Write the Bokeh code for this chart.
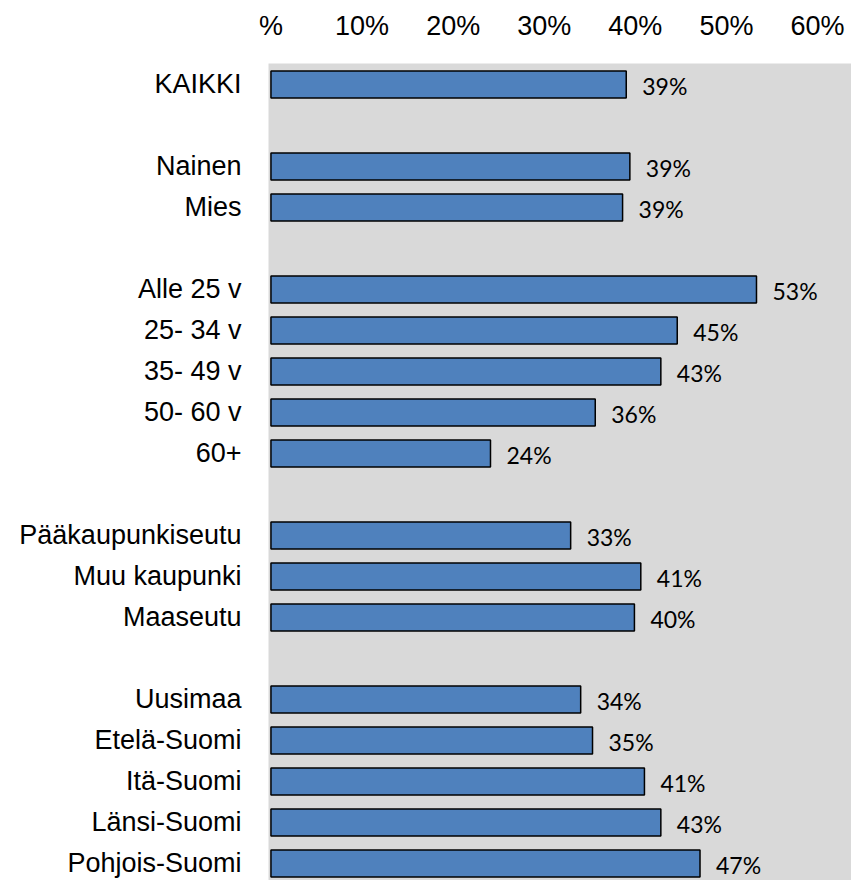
from bokeh.plotting import figure
from bokeh.models import Range1d, FixedTicker, LinearAxis, ColumnDataSource
from bokeh.core.properties import value
from bokeh.embed import file_html
from bokeh.resources import INLINE

# Data (empty string = gap between groups)
categories = ["KAIKKI", "", "Nainen", "Mies", "", "Alle 25 v", "25- 34 v", "35- 49 v",
              "50- 60 v", "60+", "", "Pääkaupunkiseutu", "Muu kaupunki", "Maaseutu", "",
              "Uusimaa", "Etelä-Suomi", "Itä-Suomi", "Länsi-Suomi", "Pohjois-Suomi"]
values = [39.0, None, 39.4, 38.6, None, 53.3, 44.6, 42.8, 35.6, 24.1, None,
          32.9, 40.6, 39.9, None, 34.0, 35.3, 41.0, 42.8, 47.1]
x_ticks = [0, 10, 20, 30, 40, 50, 60]
x_tick_labels = ["%", "10%", "20%", "30%", "40%", "50%", "60%"]

idx = [i for i, c in enumerate(categories) if c]
src = ColumnDataSource(dict(
    y=idx,
    v=[values[i] for i in idx],
    lab=[f"{values[i]:.0f}%" for i in idx],
))

p = figure(width=851, height=880, output_backend="svg", toolbar_location=None,
           x_range=Range1d(-0.27, 63.73), y_range=Range1d(19.415, -0.512),
           x_axis_location=None, y_axis_location=None,
           min_border_left=268, min_border_right=0, min_border_top=63, min_border_bottom=0)
p.background_fill_color = "#d9d9d9"
p.border_fill_color = "white"
p.outline_line_color = None
p.xgrid.visible = False
p.ygrid.visible = False

p.hbar(y="y", right="v", left=0, height=0.66, source=src,
       fill_color="#4f81bd", line_color="black", line_width=1.5)

p.text(x="v", y="y", text="lab", source=src, x_offset=16, y_offset=2,
       text_baseline="middle", text_align="left",
       text_font=value("Lato"), text_font_size="23px", text_color="black")

# Left category axis
yaxis = LinearAxis(ticker=FixedTicker(ticks=idx),
                   major_label_overrides={i: categories[i] for i in idx})
yaxis.axis_line_color = None
yaxis.major_tick_line_color = None
yaxis.minor_tick_line_color = None
yaxis.major_label_text_font = "Liberation Sans"
yaxis.major_label_text_font_size = "27px"
yaxis.major_label_text_color = "black"
yaxis.major_label_standoff = 21
p.add_layout(yaxis, "left")

# Top value axis
xaxis = LinearAxis(ticker=FixedTicker(ticks=x_ticks),
                   major_label_overrides={t: l for t, l in zip(x_ticks, x_tick_labels)})
xaxis.axis_line_color = None
xaxis.major_tick_line_color = None
xaxis.minor_tick_line_color = None
xaxis.major_label_text_font = "Liberation Sans"
xaxis.major_label_text_font_size = "27px"
xaxis.major_label_text_color = "black"
xaxis.major_label_standoff = 17
p.add_layout(xaxis, "above")

open("out.html", "w").write(file_html(p, INLINE))
